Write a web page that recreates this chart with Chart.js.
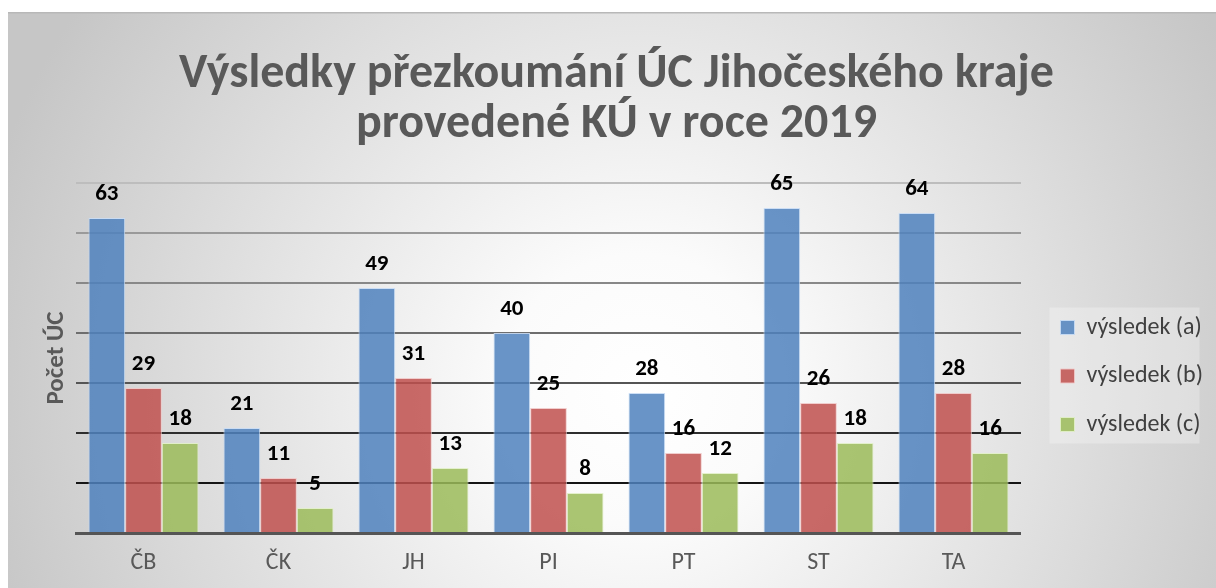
<!DOCTYPE html>
<html>
<head>
<meta charset="utf-8">
<script src="https://cdn.jsdelivr.net/npm/chart.js@4/dist/chart.umd.min.js"></script>
<style>
  html, body { margin: 0; padding: 0; background: #fff; }
  #wrap { width: 1216px; height: 588px; }
</style>
</head>
<body>
<div id="wrap"><canvas id="c" width="1216" height="588"></canvas></div>
<script>
const categories = ["ČB", "ČK", "JH", "PI", "PT", "ST", "TA"];
const seriesNames = ["výsledek (a)", "výsledek (b)", "výsledek (c)"];
const resultA = [63, 21, 49, 40, 28, 65, 64];
const resultB = [29, 11, 31, 25, 16, 26, 28];
const resultC = [18, 5, 13, 8, 12, 18, 16];
const yMin = 0, yMax = 70, yStep = 10;

const FONT = "Carlito, Lato, 'Open Sans', sans-serif";
const GREY_TEXT = "#595959";

// gridline shade gets darker towards the bottom, like in the original
const GRID_SHADES = {
  70: "#bdbdbd", 60: "#9a9a9a", 50: "#888888", 40: "#6e6e6e",
  30: "#555555", 20: "#2e2e2e", 10: "#151515", 0: "#555555"
};

const backgroundPlugin = {
  id: "bg",
  beforeDraw(chart) {
    const { ctx, width, height } = chart;
    ctx.save();
    ctx.fillStyle = "#ffffff";
    ctx.fillRect(0, 0, width, height);
    const g = ctx.createRadialGradient(640, 390, 0, 640, 390, 680);
    g.addColorStop(0, "#ffffff");
    g.addColorStop(0.2, "#fbfbfb");
    g.addColorStop(1, "#c6c6c6");
    ctx.fillStyle = g;
    ctx.fillRect(8, 12, width - 8, height - 12);
    ctx.fillStyle = "#b8b8b8";
    ctx.fillRect(8, 12, width - 8, 1.5);

    // lighter box behind legend
    const lg = chart.legend;
    if (lg && lg.legendHitBoxes && lg.legendHitBoxes.length) {
      const hb = lg.legendHitBoxes;
      const last = hb[hb.length - 1];
      const x0 = hb[0].left - 11;
      const y0 = hb[0].top - 8;
      const y1 = last.top + last.height + 7;
      ctx.fillStyle = "rgba(255,255,255,0.28)";
      ctx.fillRect(x0, y0, 150, y1 - y0);
    }
    ctx.restore();
  }
};

const valueLabels = {
  id: "valueLabels",
  afterDatasetsDraw(chart) {
    const { ctx } = chart;
    ctx.save();
    ctx.font = "bold 23px " + FONT;
    ctx.fillStyle = "#000000";
    ctx.textAlign = "center";
    ctx.textBaseline = "middle";
    chart.data.datasets.forEach((ds, i) => {
      chart.getDatasetMeta(i).data.forEach((bar, j) => {
        ctx.fillText(String(ds.data[j]), bar.x, bar.y - 24);
      });
    });
    ctx.restore();
  }
};

const palette = [
  { fill: "rgba(79,129,189,0.85)", edge: "rgba(200,220,245,0.9)" },
  { fill: "rgba(192,80,77,0.85)", edge: "rgba(240,200,200,0.9)" },
  { fill: "rgba(155,187,89,0.85)", edge: "rgba(225,240,200,0.9)" }
];

const chart = new Chart(document.getElementById("c"), {
  type: "bar",
  data: {
    labels: categories,
    datasets: [resultA, resultB, resultC].map((d, i) => ({
      label: seriesNames[i],
      data: d,
      backgroundColor: palette[i].fill,
      borderColor: palette[i].edge,
      borderWidth: 1,
      categoryPercentage: 0.815,
      barPercentage: 1.0
    }))
  },
  options: {
    responsive: false,
    animation: false,
    devicePixelRatio: 1,
    layout: { padding: { top: 12, left: 20, right: 3, bottom: 0 } },
    scales: {
      x: {
        grid: { display: false, drawTicks: false },
        border: { display: true, color: "#555555", width: 3 },
        ticks: { color: GREY_TEXT, font: { family: FONT, size: 24 }, padding: 15.6 },
        afterFit(s) { s.height = 55; }
      },
      y: {
        min: yMin,
        max: yMax,
        ticks: { stepSize: yStep, display: false },
        border: { display: false },
        grid: {
          drawTicks: false,
          lineWidth: 2,
          color: (c) => GRID_SHADES[c.tick.value] || "#888888"
        },
        title: {
          display: true,
          text: "Počet ÚC",
          color: GREY_TEXT,
          font: { family: FONT, size: 25, weight: "bold", lineHeight: 1.2 },
          padding: { top: 22, bottom: 4 }
        }
      },
      // empty right-hand axis, only keeps a gap between plot and legend
      gap: {
        position: "right",
        display: true,
        ticks: { display: false },
        grid: { display: false, drawTicks: false },
        border: { display: false },
        afterFit(s) { s.width = 15; }
      }
    },
    plugins: {
      title: {
        display: true,
        text: ["Výsledky přezkoumání ÚC Jihočeského kraje", "provedené KÚ v roce 2019"],
        color: GREY_TEXT,
        font: { family: FONT, size: 48, weight: "bold", lineHeight: "50px" },
        padding: { top: 38, bottom: 33 }
      },
      legend: {
        position: "right",
        align: "center",
        fullSize: false,
        title: {
          display: true,
          text: " ",
          font: { size: 10, lineHeight: 1.2 },
          padding: { top: 24, bottom: 0 }
        },
        labels: {
          color: "#404040",
          font: { family: FONT, size: 24 },
          boxWidth: 14,
          boxHeight: 14,
          padding: 24.5
        }
      },
      tooltip: { enabled: false }
    }
  },
  plugins: [backgroundPlugin, valueLabels]
});
</script>
</body>
</html>
